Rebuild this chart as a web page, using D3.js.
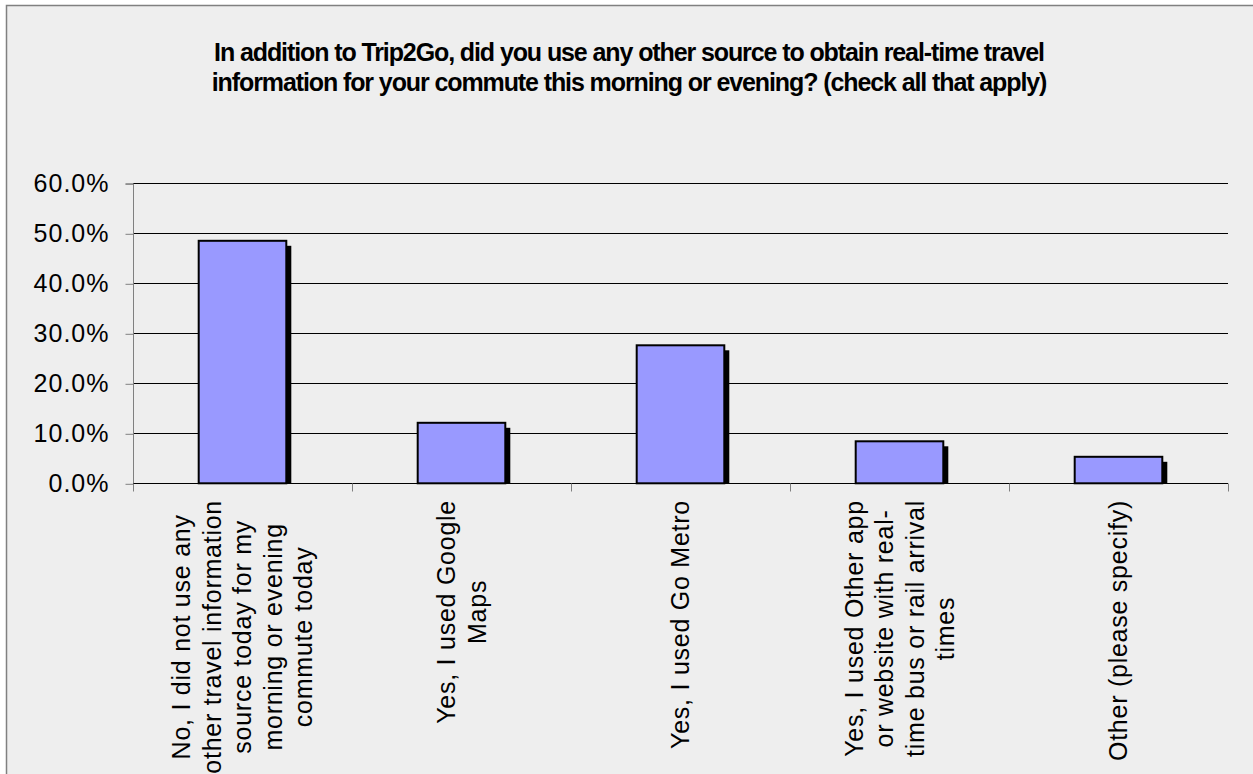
<!DOCTYPE html>
<html><head><meta charset="utf-8">
<script src="https://cdn.jsdelivr.net/npm/d3@7"></script>
<style>
html,body{margin:0;padding:0;background:#fff;}
svg{display:block;}
text{font-family:"Liberation Sans",Arial,sans-serif;fill:#000;}
</style></head>
<body>
<svg id="chart" width="1253" height="774"></svg>
<script>
const titleLines = [
  "In addition to Trip2Go, did you use any other source to obtain real-time travel",
  "information for your commute this morning or evening? (check all that apply)"
];
const categories = [
  ["No, I did not use any", "other travel information", "source today for my", "morning or evening", "commute today"],
  ["Yes, I used Google", "Maps"],
  ["Yes, I used Go Metro"],
  ["Yes, I used Other app", "or website with real-", "time bus or rail arrival", "times"],
  ["Other (please specify)"]
];
const values = [0.485, 0.121, 0.276, 0.084, 0.053];
const yTicks = [0, 0.1, 0.2, 0.3, 0.4, 0.5, 0.6];

const svg = d3.select("#chart");
svg.append("rect").attr("x", 6.5).attr("y", 5.5).attr("width", 1252).attr("height", 780)
  .attr("fill", "#eeeeee").attr("stroke", "#808080").attr("stroke-width", 1.5);

const plot = {left: 133, right: 1228, top: 183.3, bottom: 483.3};
const x = d3.scaleBand().domain(d3.range(categories.length)).range([plot.left, plot.right]).paddingInner(0.6).paddingOuter(0.3);
const xb = d3.scaleBand().domain(d3.range(categories.length)).range([plot.left, plot.right]);
const y = d3.scaleLinear().domain([0, 0.6]).range([plot.bottom, plot.top]);

// title
svg.append("text").attr("text-anchor", "middle").attr("font-size", 25).attr("font-weight", "bold")
  .attr("letter-spacing", -1.1)
  .selectAll("tspan").data(titleLines).join("tspan")
  .attr("x", 629).attr("y", (d, i) => 61 + i * 30).text(d => d);

// gridlines
svg.append("g").selectAll("line").data(yTicks.slice(1)).join("line")
  .attr("x1", plot.left).attr("x2", plot.right)
  .attr("y1", d => Math.round(y(d)) + 0.5).attr("y2", d => Math.round(y(d)) + 0.5)
  .attr("stroke", "#000").attr("stroke-width", 1);

// y axis
const yAxis = d3.axisLeft(y).tickValues(yTicks).tickFormat(d3.format(".1%")).tickSize(8).tickPadding(16);
const gy = svg.append("g").attr("transform", `translate(${plot.left + 0.5},0.5)`).call(yAxis);
gy.select(".domain").attr("stroke", "#808080").attr("d", `M-8,${y(0.6)}H0V${y(0)}`);
gy.selectAll(".tick line").attr("stroke", "#808080");
gy.selectAll(".tick text").attr("font-size", 25).attr("letter-spacing", 1)
  .attr("font-family", "Liberation Sans, Arial, sans-serif").attr("fill", "#000");

// bars shadow
const bars = svg.append("g");
bars.selectAll("rect.sh").data(values).join("rect").attr("class", "sh")
  .attr("x", (d, i) => x(i) + 5).attr("y", d => y(d) + 5)
  .attr("width", x.bandwidth()).attr("height", d => y(0) - y(d) - 5)
  .attr("fill", "#000");
bars.selectAll("rect.bar").data(values).join("rect").attr("class", "bar")
  .attr("x", (d, i) => x(i)).attr("y", d => y(d))
  .attr("width", x.bandwidth()).attr("height", d => y(0) - y(d))
  .attr("fill", "#9999ff").attr("stroke", "#000").attr("stroke-width", 2);

// x axis
const gx = svg.append("g").attr("transform", `translate(0,${Math.round(y(0)) + 0.5})`);
gx.append("line").attr("x1", plot.left).attr("x2", plot.right).attr("stroke", "#000");
gx.selectAll("line.tk").data(d3.range(categories.length + 1)).join("line").attr("class", "tk")
  .attr("x1", i => Math.round(plot.left + i * xb.bandwidth()) + 0.5).attr("x2", i => Math.round(plot.left + i * xb.bandwidth()) + 0.5)
  .attr("y1", 0).attr("y2", 8).attr("stroke", "#808080");

// x labels rotated
const fs = 25, lh = 30.5;
categories.forEach((lines, i) => {
  const cx = xb(i) + xb.bandwidth() / 2;
  const g = svg.append("g");
  const t = g.append("text").attr("font-size", fs).attr("letter-spacing", 0.75).attr("text-anchor", "middle");
  const n = lines.length;
  lines.forEach((ln, j) => {
    t.append("tspan").attr("x", 0).attr("y", (j - (n - 1) / 2) * lh + fs * 0.35).text(ln);
  });
  let maxLen = 0;
  t.selectAll("tspan").each(function () { maxLen = Math.max(maxLen, this.getComputedTextLength()); });
  g.attr("transform", `translate(${cx},${500 + maxLen / 2}) rotate(-90)`);
});
</script>
</body></html>
